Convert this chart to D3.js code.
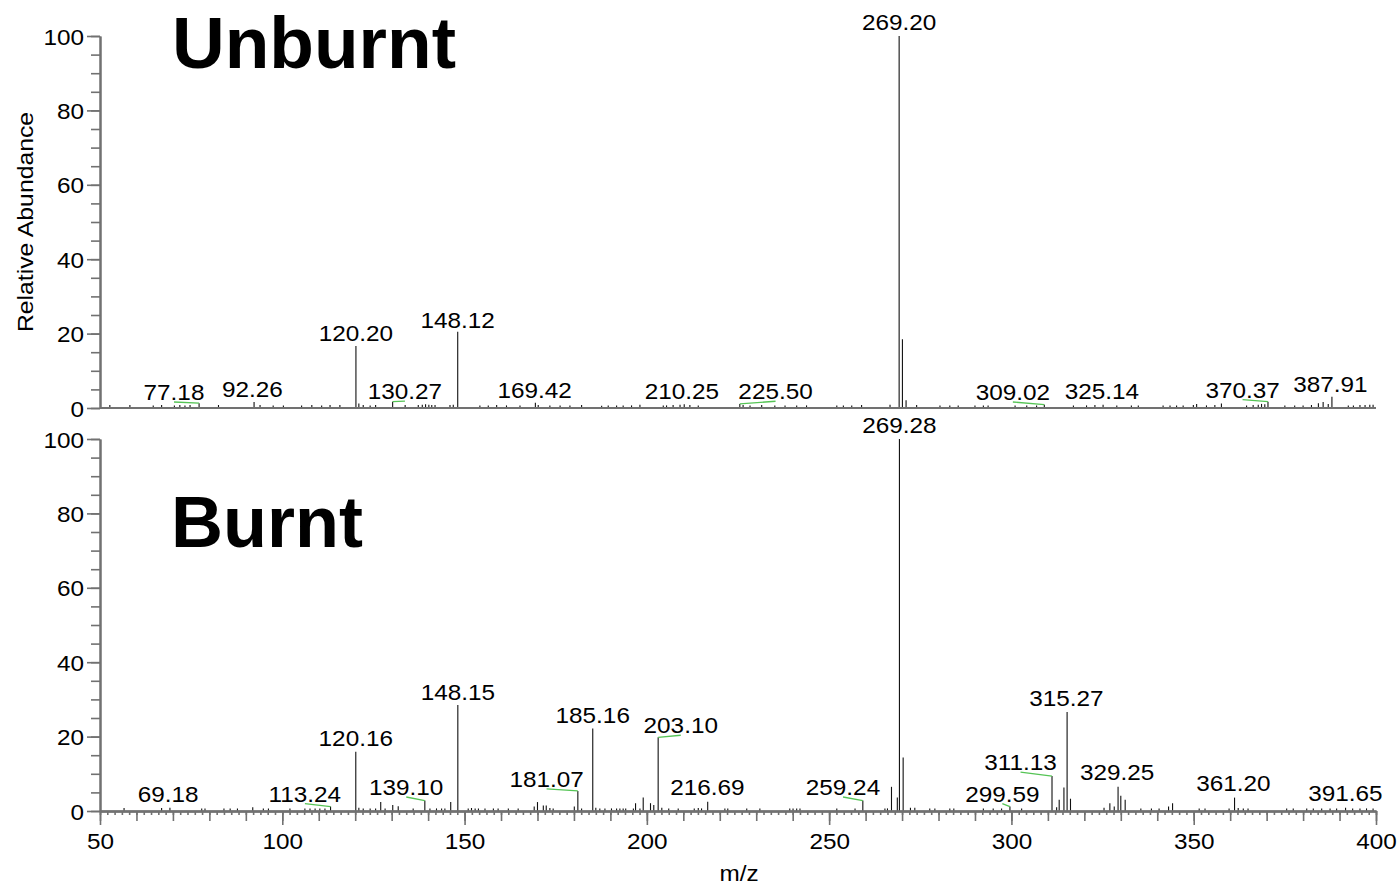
<!DOCTYPE html>
<html>
<head>
<meta charset="utf-8">
<script src="https://cdn.jsdelivr.net/npm/d3@7"></script>
<style>
  html, body { margin: 0; padding: 0; background: #fff; }
  svg { display: block; }
  .lbl { font-family: "Liberation Sans", Arial, sans-serif; font-size: 22.5px; fill: #000; }
  .title { font-family: "Liberation Sans", Arial, sans-serif; font-weight: 700; font-size: 73px; fill: #000; }
</style>
</head>
<body>
<svg id="chart" width="1400" height="887"></svg>
<script>
// ---------------- DATA ----------------
const mzDomain = [50, 400];
const xTickMajor = [50, 100, 150, 200, 250, 300, 350, 400];
const yTickMajor = [0, 20, 40, 60, 80, 100];

// Unburnt spectrum: [m/z, relative abundance]
const unburntPeaks = [
  [52.7,0.8],[58.2,0.8],[64.6,0.7],[66.9,0.8],[70.4,0.7],[71.9,0.8],[73.3,0.7],[74.7,0.8],
  [77.18,1.3],[82.5,0.8],[92.26,1.6],[93.9,0.8],[97.5,0.7],[100.3,0.7],[105.3,0.7],[108.1,0.8],
  [110.8,0.7],[113.1,0.8],[115.8,0.8],[120.20,16.7],[121.0,1.2],[122.2,0.8],[124.1,0.7],[125.6,0.8],
  [130.27,1.7],[133.7,0.8],[137.3,0.8],[138.4,0.9],[139.3,1.0],[140.2,0.9],[141.0,0.8],[141.9,0.8],
  [146.0,0.8],[146.9,0.9],[148.12,20.5],[154.2,0.7],[156.5,0.7],[158.8,0.8],[161.5,0.7],[165.2,0.7],
  [169.42,1.4],[170.2,0.8],[173.4,0.7],[176.2,0.7],[178.9,0.7],[182.1,0.8],[187.6,0.6],[189.4,0.7],
  [191.7,0.7],[193.5,0.7],[195.8,0.7],[198.1,0.9],[204.5,0.7],[205.4,0.7],[207.2,0.8],[209.1,0.9],
  [210.25,1.0],[211.8,0.8],[214.1,0.7],[225.50,1.1],[226.4,0.8],[228.3,0.7],[231.5,0.8],[235.1,0.7],
  [237.9,0.7],[241.1,0.7],[243.8,0.7],[252.1,0.7],[253.9,0.7],[256.2,0.7],[258.9,0.8],[266.7,0.9],
  [269.20,100],[270.1,18.5],[271.1,2.1],[274.0,0.8],[280.4,0.7],[283.1,0.7],[285.4,0.7],[290.0,0.7],
  [292.3,0.7],[293.6,0.7],[301.0,0.7],[304.2,0.7],[306.9,0.7],[309.02,0.9],[317.0,0.7],[320.6,0.7],
  [322.9,0.8],[325.14,0.9],[328.9,0.7],[332.9,0.7],[334.8,0.7],[341.6,0.7],[343.5,0.7],[345.3,0.7],
  [347.1,0.7],[349.9,0.8],[350.8,1.1],[353.5,0.7],[355.8,0.8],[357.6,1.2],[364.5,0.7],[366.3,0.8],
  [367.7,0.9],[368.6,1.1],[369.5,1.0],[370.37,1.7],[375.0,0.7],[377.7,0.7],[380.0,0.7],[382.3,0.8],
  [384.2,1.3],[385.5,1.6],[386.9,1.1],[387.91,3.0],[392.4,0.7],[393.8,0.7],[395.6,0.8],[397.0,0.8],
  [398.3,0.9],[399.2,0.9]
];

// Burnt spectrum: [m/z, relative abundance]
const burntPeaks = [
  [56.6,0.8],[66.9,0.8],[69.18,0.9],[77.9,0.7],[78.8,0.7],[84.0,0.7],[85.7,0.7],[87.7,0.7],
  [91.9,1.0],[94.8,0.7],[96.2,0.7],[102.1,0.7],[106.2,0.7],[107.6,0.7],[109.0,0.7],[110.3,0.7],
  [111.7,0.7],[113.24,1.2],[120.16,15.9],[121.0,0.9],[122.2,0.7],[124.1,0.7],[125.6,0.7],[127.0,2.4],
  [128.2,0.7],[130.3,1.6],[131.8,1.3],[135.9,0.7],[139.10,2.8],[140.5,0.7],[142.3,0.7],[143.7,0.7],
  [144.6,0.7],[146.2,2.4],[148.15,28.5],[151.0,0.7],[151.9,0.8],[152.9,0.7],[153.8,0.7],[155.6,0.7],
  [157.9,0.7],[159.2,0.7],[162.0,0.7],[164.7,0.7],[169.1,1.2],[170.0,2.4],[171.6,1.5],[172.4,1.5],
  [173.4,0.8],[174.3,0.7],[180.1,1.2],[181.07,5.4],[182.1,0.7],[185.16,22.2],[186.0,0.9],[187.1,0.7],
  [188.5,0.7],[190.3,0.7],[191.7,0.7],[192.6,0.7],[193.5,0.7],[194.2,0.7],[196.3,0.7],[196.9,2.1],
  [198.1,0.7],[199.0,3.6],[201.0,2.1],[201.9,1.6],[203.10,19.8],[204.1,0.9],[206.0,0.7],[208.6,0.7],
  [213.0,0.7],[214.1,0.8],[215.0,0.7],[216.69,2.5],[221.4,0.7],[222.2,0.7],[227.4,0.7],[231.0,0.7],
  [239.2,0.7],[240.1,0.7],[241.1,0.7],[242.0,0.7],[252.1,0.7],[257.1,0.7],[259.24,2.8],[265.3,0.7],
  [266.0,0.7],[267.1,6.5],[268.7,3.6],[269.28,100],[270.3,14.4],[272.3,0.9],[273.5,0.9],[277.6,0.7],
  [279.0,0.7],[283.1,0.7],[284.2,0.7],[292.3,0.7],[295.0,0.7],[297.3,0.7],[299.59,1.2],[302.8,0.7],
  [311.13,9.4],[312.4,1.0],[313.1,3.0],[314.4,6.3],[315.27,26.6],[316.2,3.3],[325.4,0.9],[327.0,2.1],
  [328.2,1.2],[329.25,6.5],[330.0,4.1],[331.2,3.0],[335.5,0.7],[338.4,0.7],[340.5,0.7],[343.1,1.2],
  [344.2,2.1],[351.5,0.7],[353.1,0.7],[359.7,0.7],[361.20,3.6],[362.2,0.8],[363.6,0.7],[364.9,0.7],
  [375.5,0.7],[377.3,0.7],[381.0,0.7],[382.8,0.7],[385.1,0.7],[387.4,0.7],[389.2,0.7],[391.65,0.9],
  [393.6,0.7],[395.6,0.7],[397.4,0.7],[399.2,0.7]
];

// Peak annotations: [text, peak m/z, label centre m/z, label baseline (abundance units)]
const unburntLabels = [
  ["77.18", 77.18, 70.3, 2.15], ["92.26", 92.26, 91.8, 3.0], ["120.20", 120.20, 120.20, 18.1],
  ["130.27", 130.27, 133.65, 2.4], ["148.12", 148.12, 148.12, 21.5], ["169.42", 169.42, 169.2, 2.6],
  ["210.25", 210.25, 209.6, 2.35], ["225.50", 225.50, 235.3, 2.35], ["269.20", 269.20, 269.20, 101.6],
  ["309.02", 309.02, 300.4, 2.15], ["325.14", 325.14, 324.8, 2.35], ["370.37", 370.37, 363.4, 2.8],
  ["387.91", 387.91, 387.5, 4.4]
];
const burntLabels = [
  ["69.18", 69.18, 68.7, 2.5], ["113.24", 113.24, 106.2, 2.5], ["120.16", 120.16, 120.16, 17.5],
  ["139.10", 139.10, 134.0, 4.3], ["148.15", 148.15, 148.15, 29.8], ["181.07", 181.07, 172.5, 6.5],
  ["185.16", 185.16, 185.16, 23.7], ["203.10", 203.10, 209.3, 20.9], ["216.69", 216.69, 216.6, 4.3],
  ["259.24", 259.24, 253.8, 4.3], ["269.28", 269.28, 269.28, 101.6], ["299.59", 299.59, 297.5, 2.5],
  ["311.13", 311.13, 302.5, 11.0], ["315.27", 315.27, 315.1, 28.2], ["329.25", 329.25, 329.0, 8.3],
  ["361.20", 361.20, 360.9, 5.4], ["391.65", 391.65, 391.6, 2.8]
];

const panelTitles = ["Unburnt", "Burnt"];
const xTitle = "m/z";
const yTitle = "Relative Abundance";

// ---------------- DRAWING ----------------
const svg = d3.select("#chart");
const axisGray = "#717171";
const STRETCH = 1.08;

const x = d3.scaleLinear().domain(mzDomain).range([100, 1376]);
const yTop = d3.scaleLinear().domain([0, 100]).range([408, 36]);
const yBot = d3.scaleLinear().domain([0, 100]).range([811, 439]);

function stretch(sel, k) {
  sel.each(function () {
    const len = this.getComputedTextLength();
    d3.select(this).attr("textLength", len * k).attr("lengthAdjust", "spacingAndGlyphs");
  });
}

function drawPanel(peaks, labels, y, title, titlePos) {
  const g = svg.append("g");

  // stems
  g.append("g").selectAll("line").data(peaks).join("line")
    .attr("x1", d => x(d[0])).attr("x2", d => x(d[0]))
    .attr("y1", y(0)).attr("y2", d => y(d[1]))
    .attr("stroke", "#111").attr("stroke-width", 1.1);

  // y axis: minor + major
  const yMinor = g.append("g").attr("transform", `translate(${x(mzDomain[0])},0)`)
    .call(d3.axisLeft(y).tickValues(d3.range(0, 101, 5)).tickSize(9).tickSizeOuter(0).tickFormat(""));
  const yMajor = g.append("g").attr("transform", `translate(${x(mzDomain[0])},0)`)
    .call(d3.axisLeft(y).tickValues(yTickMajor).tickSize(13).tickSizeOuter(0).tickPadding(3));
  [yMinor, yMajor].forEach(a => {
    a.select(".domain").attr("stroke", axisGray).attr("stroke-width", 2);
    a.selectAll(".tick line").attr("stroke", axisGray).attr("stroke-width", 1.6);
  });
  yMajor.selectAll(".tick text").attr("class", "lbl").attr("fill", "#000")
    .attr("dy", "0.36em").call(stretch, STRETCH);

  // labels + leader lines
  const peakH = new Map(peaks.map(p => [p[0], p[1]]));
  const lg = g.append("g");
  labels.forEach(([t, pm, lm, ly]) => {
    if (Math.abs(lm - pm) > 1.5) {
      lg.append("line")
        .attr("x1", x(lm)).attr("y1", y(ly) + 2)
        .attr("x2", x(pm)).attr("y2", y(peakH.get(pm)))
        .attr("stroke", "#55c455").attr("stroke-width", 1.3);
    }
    lg.append("text").attr("class", "lbl")
      .attr("x", x(lm)).attr("y", y(ly))
      .attr("text-anchor", "middle").text(t).call(stretch, STRETCH);
  });

  // title
  const tt = g.append("text").attr("class", "title")
    .attr("x", titlePos[0]).attr("y", titlePos[1]).text(title);
  tt.attr("textLength", titlePos[2]).attr("lengthAdjust", "spacingAndGlyphs");
  return g;
}

const gTop = drawPanel(unburntPeaks, unburntLabels, yTop, panelTitles[0], [172, 67.5, 284]);
const gBot = drawPanel(burntPeaks, burntLabels, yBot, panelTitles[1], [171, 547, 192]);

// top baseline (no ticks)
gTop.append("line")
  .attr("x1", x(mzDomain[0])).attr("x2", x(mzDomain[1]))
  .attr("y1", yTop(0)).attr("y2", yTop(0))
  .attr("stroke", axisGray).attr("stroke-width", 2);

// bottom x axis: minor (2), medium (10), major (50)
const xAxisG = svg.append("g").attr("transform", `translate(0,${yBot(0)})`);
const xMinor = xAxisG.append("g")
  .call(d3.axisBottom(x).tickValues(d3.range(50, 401, 2)).tickSize(4).tickSizeOuter(0).tickFormat(""));
const xMed = xAxisG.append("g")
  .call(d3.axisBottom(x).tickValues(d3.range(50, 401, 10)).tickSize(10).tickSizeOuter(0).tickFormat(""));
const xMajor = xAxisG.append("g")
  .call(d3.axisBottom(x).tickValues(xTickMajor).tickSize(14).tickSizeOuter(0).tickPadding(8));
[xMinor, xMed, xMajor].forEach(a => {
  a.select(".domain").attr("stroke", axisGray).attr("stroke-width", 2);
  a.selectAll(".tick line").attr("stroke", axisGray).attr("stroke-width", 1.6);
});
xMajor.selectAll(".tick text").attr("class", "lbl").attr("fill", "#000").call(stretch, STRETCH);

// axis titles
svg.append("text").attr("class", "lbl")
  .attr("x", 739).attr("y", 881).attr("text-anchor", "middle").text(xTitle).call(stretch, STRETCH);
svg.append("text").attr("class", "lbl")
  .attr("transform", "translate(33,222) rotate(-90)")
  .attr("text-anchor", "middle").text(yTitle).call(stretch, 1.1);
</script>
</body>
</html>
